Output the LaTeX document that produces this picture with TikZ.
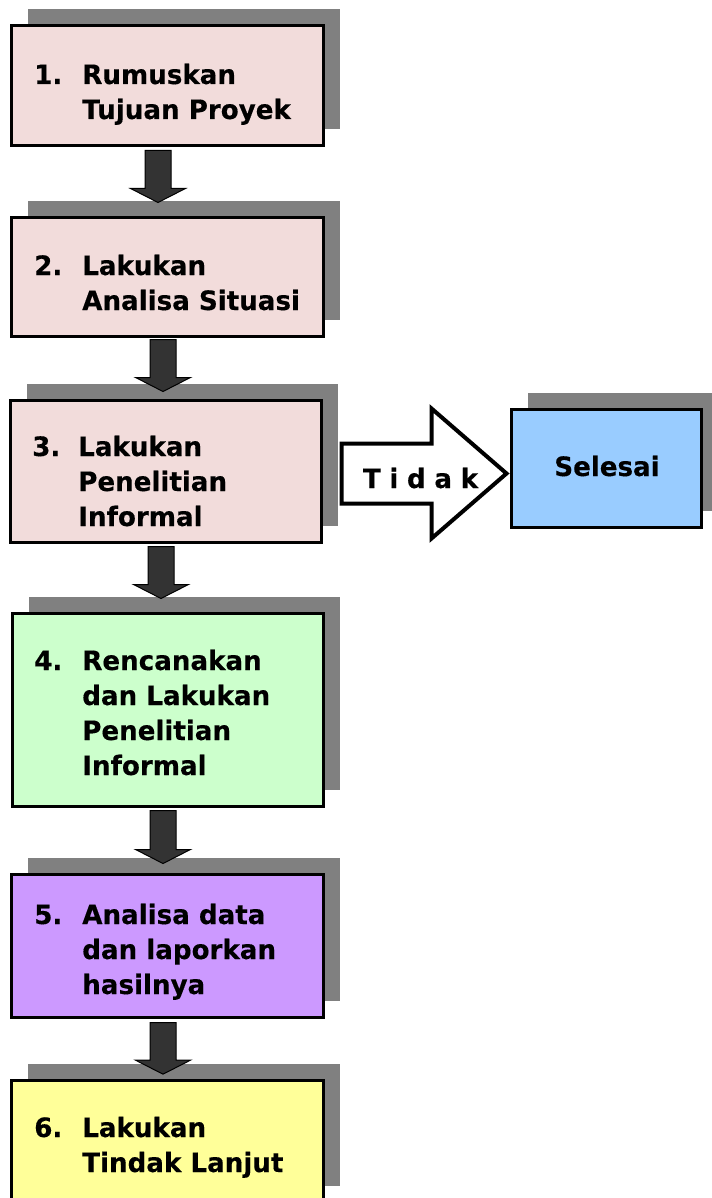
\documentclass[tikz,border=0pt]{standalone}
\usepackage{fontspec}
\setmainfont{DejaVu Sans}
\newfontfamily\boxfont{DejaVu Sans}[FakeStretch=0.98, BoldFeatures={FakeBold=0.3}]
\usetikzlibrary{calc,backgrounds}
\definecolor{pinkfill}{HTML}{F2DCDB}
\definecolor{greenfill}{HTML}{CCFFCC}
\definecolor{purplefill}{HTML}{CC99FF}
\definecolor{yellowfill}{HTML}{FFFF99}
\definecolor{bluefill}{HTML}{99CCFF}
\definecolor{shadowgray}{HTML}{808080}
\definecolor{arrowfill}{HTML}{333333}
\newcommand{\steptext}[2]{\begin{tabular}[t]{@{}p{#1}@{}l@{}}#2\end{tabular}}
\begin{document}
\begin{tikzpicture}[x=0.75pt,y=-0.75pt,
  flowbox/.style={draw=black, line width=2.25pt, inner sep=0pt, outer sep=0pt},
  bigfont/.style={font=\boxfont\bfseries\fontsize{20pt}{26.25pt}\selectfont},
  boxtxt/.style={bigfont, anchor=base west, inner sep=0pt},
  fatdown/.style={draw=black, line width=0.75pt, fill=arrowfill, to path={
    let \p1=(\tikztostart), \p2=(\tikztotarget) in
    (\x1-9.75pt,\y1) -- (\x1+9.75pt,\y1) -- (\x1+9.75pt,\y2+10.5pt) -- (\x1+20.6pt,\y2+10.5pt)
    -- (\x1,\y2) -- (\x1-20.6pt,\y2+10.5pt) -- (\x1-9.75pt,\y2+10.5pt) -- cycle}},
  fatright/.style={draw=black, line width=3pt, fill=white, to path={
    let \p1=(\tikztostart), \p2=(\tikztotarget) in
    (\x1,\y1+22.5pt) -- (\x2-56.25pt,\y1+22.5pt) -- (\x2-56.25pt,\y1+48.75pt) -- (\x2,\y1)
    -- (\x2-56.25pt,\y1-48.75pt) -- (\x2-56.25pt,\y1-22.5pt) -- (\x1,\y1-22.5pt) -- cycle}},
]
\useasboundingbox (0,0) rectangle (711,1198);

% boxes
\node[flowbox, fill=pinkfill,   minimum width=234pt, minimum height=90pt] (b1) at (167.5,85.5) {};
\node[flowbox, fill=pinkfill,   minimum width=234pt, minimum height=89.25pt] (b2) at (167.5,277) {};
\node[flowbox, fill=pinkfill,   minimum width=233.25pt, minimum height=106.5pt] (b3) at (166,471.5) {};
\node[flowbox, fill=greenfill,  minimum width=233.25pt, minimum height=144.75pt] (b4) at (168,710) {};
\node[flowbox, fill=purplefill, minimum width=234pt, minimum height=107.25pt] (b5) at (167.5,946) {};
\node[flowbox, fill=yellowfill, minimum width=234pt, minimum height=92pt] (b6) at (167.5,1141.5) {};
\node[flowbox, fill=bluefill,   minimum width=142.5pt, minimum height=88.5pt] (sel) at (606.5,468.5) {};

% shadows
\begin{scope}[on background layer]
  \foreach \b in {b1,b2,b3,b4,b5,b6,sel}{
    \fill[shadowgray] ($(\b.south west)+(16,-16.5)$) rectangle ($(\b.north east)+(16,-16.5)$);
  }
\end{scope}

% texts
\node[boxtxt] (t1) at (34,84)   {\steptext{36pt}{1. & Rumuskan\\ & Tujuan Proyek}};
\node[boxtxt] (t2) at (34,275)  {\steptext{36pt}{2. & Lakukan\\ & Analisa Situasi}};
\node[boxtxt] (t3) at (32,456)  {\steptext{34.5pt}{3. & Lakukan\\ & Penelitian\\ & Informal}};
\node[boxtxt] (t4) at (34,670)  {\steptext{36pt}{4. & Rencanakan\\ & dan Lakukan\\ & Penelitian\\ & Informal}};
\node[boxtxt] (t5) at (34,924)  {\steptext{36pt}{5. & Analisa data\\ & dan laporkan\\ & hasilnya}};
\node[boxtxt] (t6) at (34,1137) {\steptext{36pt}{6. & Lakukan\\ & Tindak Lanjut}};
\node[bigfont, anchor=base, inner sep=0pt] (tsel) at (607,476) {Selesai};

% down arrows
\coordinate (a1s) at ($(b1.south)+(-9.5,5)$);
\coordinate (a1e) at ($(b2.north)+(-9.5,-15)$);
\coordinate (a2s) at ($(b2.south)+(-4.5,3)$);
\coordinate (a2e) at ($(b3.north)+(-3,-9)$);
\coordinate (a3s) at ($(b3.south)+(-5,4)$);
\coordinate (a3e) at ($(b4.north)+(-7,-15)$);
\coordinate (a4s) at ($(b4.south)+(-5,4)$);
\coordinate (a4e) at ($(b5.north)+(-4.5,-11)$);
\coordinate (a5s) at ($(b5.south)+(-4.5,5)$);
\coordinate (a5e) at ($(b6.north)+(-4.5,-6)$);
\draw[fatdown] (a1s) to (a1e);
\draw[fatdown] (a2s) to (a2e);
\draw[fatdown] (a3s) to (a3e);
\draw[fatdown] (a4s) to (a4e);
\draw[fatdown] (a5s) to (a5e);

% Tidak arrow
\coordinate (ts) at ($(b3.east)+(20,2)$);
\coordinate (te) at ($(sel.west)+(-5,5)$);
\draw[fatright] (ts) to (te);
\node[bigfont, anchor=base, inner sep=0pt] (tidak) at (420.5,488)
  {T\hspace{6.5pt}i\hspace{6.5pt}d\hspace{6.5pt}a\hspace{6.5pt}k};
\end{tikzpicture}
\end{document}
